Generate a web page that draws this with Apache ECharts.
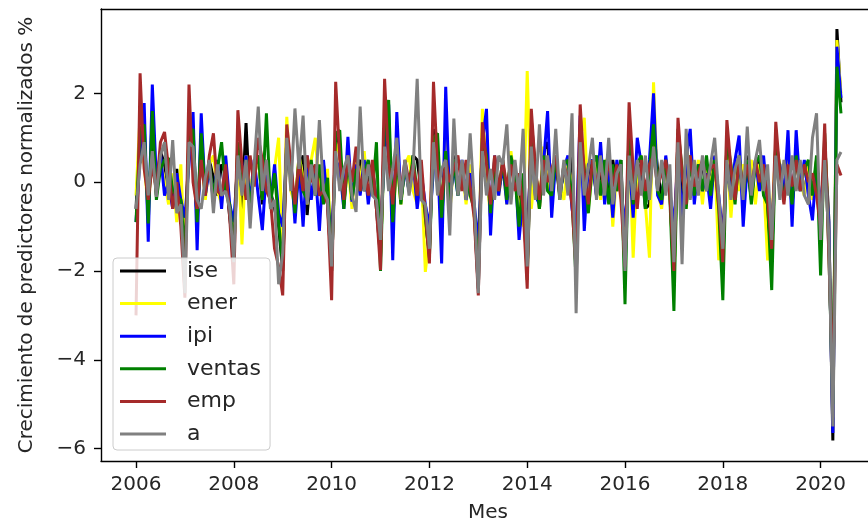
<!DOCTYPE html>
<html><head><meta charset="utf-8">
<script src="https://cdn.jsdelivr.net/npm/echarts@6/dist/echarts.min.js"></script>
<style>html,body{margin:0;padding:0;background:#fff}#c{width:868px;height:527px}</style>
</head><body><div id="c"></div>
<script>
// Monthly series, Jan 2006 .. Jun 2020
const startYear = 2006;
const seriesNames = ['ise', 'ener', 'ipi', 'ventas', 'emp', 'a'];
const seriesColors = ['#000000', '#ffff00', '#0000ff', '#008000', '#a52a2a', '#808080'];

const ise = [
  -0.6, 1.2, 0.6, -0.5, 0.9, -0.3, 0.7, 0.4, -0.2, -0.4, 0.3, -0.7,
  -1.8, 1.1, 0.5, -0.8, 0.6, -0.3, 0.5, 0.1, -0.3, 0.4, 0.2, -0.8,
  -1.6, 0.8, -0.6, 1.33, -0.6, 0.4, 0.6, -0.5, 0.5, -0.2, -0.6, -1.0,
  -2.0, 0.9, 0.2, -0.6, 0.3, 0.6, -0.74, 0.4, 0.2, -0.3, 0.4, -0.5,
  -2.0, 1.1, 0.7, -0.5, 0.6, -0.4, 0.3, 0.5, -0.2, 0.1, 0.4, -0.6,
  -1.7, 1.3, 1.0, -0.9, 0.8, -0.4, 0.3, 0.0, 0.6, 0.5, -0.2, -0.9,
  -1.6, 1.2, 0.5, -1.0, 1.1, -0.6, 0.6, -0.1, 0.3, -0.3, 0.3, -0.7,
  -2.4, 1.1, 0.6, -0.8, 0.5, -0.2, 0.4, -0.3, 0.6, 0.1, -0.4, -0.5,
  -2.0, 1.4, 0.3, -0.6, 0.7, 0.9, -0.4, 0.5, -0.2, 0.2, 0.4, 0.6,
  -2.2, 1.3, -0.4, 0.2, 0.5, -0.3, 0.2, 0.4, -0.3, 0.5, -0.2, 0.5,
  -2.0, 1.2, -0.4, 0.3, 0.4, -0.6, -0.5, 1.2, 0.3, -0.4, 0.4, -0.2,
  -2.2, 1.1, -0.6, 0.4, 0.6, -0.3, 0.3, 0.4, -0.2, 0.3, 0.5, -0.6,
  -1.9, 0.9, -0.4, 0.4, 0.5, -0.4, 0.6, 0.1, 0.4, 0.5, -0.2, -0.8,
  -1.7, 0.9, 0.2, -0.2, 0.6, -0.5, 0.7, 0.2, -0.2, 0.3, -0.4, 0.5,
  -1.2, 0.9, -0.8, -5.82, 3.45, 1.8
];
const ener = [
  -0.3, 1.5, 0.4, -0.6, 0.6, -0.2, 0.5, 0.0, -0.5, 0.2, -0.9, 0.4,
  -1.8, 1.2, 0.3, -0.7, 0.8, -0.4, 0.4, 0.6, -0.2, -0.5, 0.5, -0.6,
  -1.6, 0.9, -1.4, 0.6, -0.2, 0.3, 0.5, -0.3, 0.4, -0.5, 0.3, 1.0,
  -1.5, 1.47, -0.2, -0.5, 0.6, 0.1, -0.5, 0.5, 1.0, -0.2, -0.4, 0.3,
  -1.7, 0.9, 0.6, -0.5, 0.4, -0.6, 0.5, 0.0, 0.7, -0.4, 0.3, -0.4,
  -1.6, 1.0, 1.2, -1.0, 0.5, -0.5, 0.4, 0.6, -0.2, -0.5, 0.3, -2.02,
  -1.2, 1.0, 0.6, -0.9, 1.2, -0.7, 0.5, -0.1, 0.3, -0.5, 0.4, -0.8,
  -1.9, 1.65, 0.2, -0.8, 0.6, -0.3, 0.4, -0.5, 0.7, 0.0, -0.5, -1.0,
  2.5, -0.6, 0.3, -0.6, 0.8, 0.2, -0.5, 0.6, -0.1, -0.4, 0.5, -0.2,
  -1.9, 1.0, 1.45, -0.6, 0.3, 0.5, -0.4, 0.4, 0.6, -1.0, 0.3, -0.3,
  -1.5, 1.0, -1.7, 0.4, 0.6, -0.5, -1.7, 2.25, -0.2, -0.6, 0.4, -0.2,
  -2.3, 1.0, 0.3, -0.6, 0.6, -0.2, 0.5, -0.5, 0.4, -0.1, 0.6, -1.76,
  -1.2, 0.6, -0.8, 0.5, -0.2, 0.4, 0.2, 0.5, -0.5, 0.4, 0.0, -1.76,
  -0.9, 0.8, 0.4, -0.3, 0.5, -0.5, 0.6, 0.0, -0.3, 0.4, -0.4, 0.5,
  -0.9, 0.9, -1.0, -5.3, 3.2, 2.0
];
const ipi = [
  -0.9, 0.6, 1.78, -1.34, 2.2, 0.05, 0.65, -0.3, 0.0, -0.6, 0.2, -0.4,
  -0.8, 0.4, 1.58, -1.53, 1.55, -0.3, 0.3, -0.4, 0.5, -0.6, 0.6, -0.5,
  -0.9, 0.5, -0.2, 0.6, -0.5, 0.5, -0.3, -1.08, 0.3, -0.5, 0.4, -0.7,
  -1.0, 0.8, 0.5, -0.93, 0.4, -1.0, 0.6, -0.4, 0.3, -1.1, 0.5, -0.5,
  -1.2, 0.5, 0.3, -0.6, 1.02, -0.44, 0.4, -0.3, 0.5, -0.5, 0.3, -0.4,
  -1.1, 0.6, 1.75, -1.76, 1.58, -0.4, 0.3, -0.2, 0.5, -0.6, 0.2, -0.5,
  -1.0, 0.3, 0.6, -1.83, 2.15, -0.5, 0.4, -0.3, 0.5, -0.4, 0.2, -0.5,
  -1.4, 0.9, 1.65, -1.2, 0.6, -0.3, 0.4, -0.5, 0.5, 0.4, -1.3, -0.3,
  -1.3, 0.8, -0.3, -0.5, 0.4, 1.6, -0.8, 0.5, -0.3, 0.3, 0.6, -0.6,
  -1.2, 1.5, -1.1, 0.4, 0.5, -0.3, 0.9, -0.5, 0.4, -0.8, 0.5, -0.2,
  -1.0, 0.5, -0.8, 1.0, 0.4, -0.5, 0.5, 2.0, -0.3, -0.5, 0.6, -0.2,
  -1.0, 0.6, -0.8, 0.5, 1.2, -0.5, 0.4, -0.2, 0.2, -0.6, 0.6, -0.3,
  -1.2, 0.4, -0.3, 0.5, 1.05, -1.0, 0.4, -0.4, 0.5, -0.2, 0.6, -0.5,
  -1.0, 0.5, 0.4, -0.33, 1.17, -1.0, 1.17, -0.2, 0.5, -0.3, -0.86, 0.4,
  -0.6, 0.6, -0.9, -5.65, 3.05, 1.9
];
const ventas = [
  -0.9, 1.2, 1.3, -0.93, 1.6, -0.4, 0.3, 0.5, 0.54, -0.2, -0.3, -0.4,
  -1.6, 1.0, 1.2, -0.9, 1.1, -0.2, 0.4, -0.3, 0.3, 0.9, -0.2, -0.5,
  -1.5, 0.9, -0.2, 0.5, -0.6, 0.3, 0.6, -0.4, 1.55, -0.5, 0.2, -0.9,
  -1.9, 1.0, 0.4, -0.7, 0.6, -0.2, -0.4, 0.5, -0.3, 0.4, -0.5, 0.1,
  -2.0, 1.1, 1.17, -0.6, 0.5, -0.4, 0.3, -0.2, 0.2, 0.5, -0.3, 0.9,
  -2.0, 1.3, 1.85, -0.9, 0.6, -0.5, 0.4, -0.2, 0.6, -0.3, 0.2, -0.8,
  -1.7, 1.0, 1.1, -0.8, 0.7, -0.5, 0.5, -0.3, 0.2, 0.4, -0.3, -0.6,
  -2.0, 1.0, 0.6, -0.7, 0.4, -0.2, 0.5, -0.4, 0.6, 0.1, -1.0, 0.2,
  -2.2, 1.2, 0.3, -0.6, 0.6, -0.2, -0.3, 0.6, -0.4, 0.4, 0.5, -0.4,
  -2.2, 1.1, 0.3, -0.7, 0.4, 0.6, -0.3, 0.5, -0.5, 0.4, -0.2, 0.5,
  -2.75, 1.2, -0.5, 0.4, 0.6, -0.6, 0.3, 1.3, -0.2, -0.4, 0.5, -0.3,
  -2.9, 1.2, 0.3, -0.6, 0.5, -0.3, 0.4, -0.2, 0.6, -0.3, 0.5, -0.6,
  -2.66, 1.0, 0.4, -0.5, 0.6, -0.3, 0.5, -0.5, 0.4, 0.6, -0.3, -0.5,
  -2.43, 1.0, 0.3, -0.4, 0.2, -0.5, 0.6, -0.2, 0.3, 0.5, -0.3, 0.6,
  -2.1, 1.1, -1.5, -5.0, 2.6, 1.55
];
const emp = [
  -3.0, 2.45, 0.3, -0.4, 0.4, -0.2, 0.9, 1.13, 0.3, -0.6, 0.0, -1.0,
  -2.6, 2.2, 0.0, -0.6, 0.5, -0.3, 0.6, 1.1, -0.2, -0.3, 0.4, -0.8,
  -2.3, 1.62, 0.4, -0.4, 0.6, -0.1, 1.0, 0.5, -0.2, -0.4, -1.5, -1.9,
  -2.55, 1.3, 0.4, -0.5, 0.5, -0.2, 0.6, 0.0, 0.4, -0.3, -0.2, -0.5,
  -2.66, 2.26, 0.5, -0.4, 0.6, 0.0, 0.8, -0.2, 0.3, -0.3, 0.5, -0.6,
  -1.98, 2.33, 0.4, -0.5, 0.6, -0.2, 0.5, 0.0, 0.4, -0.3, 0.5, -0.7,
  -1.83, 2.26, 0.3, -0.4, 0.5, 0.0, 0.3, 0.6, -0.2, 0.5, -0.1, -0.8,
  -2.55, 1.35, 0.4, -0.5, 0.6, -0.2, 0.5, -0.1, 0.4, -0.2, 0.2, -0.6,
  -2.4, 1.65, 0.3, -0.4, 0.5, 0.0, 0.3, 0.6, -0.3, 0.4, 0.1, -0.5,
  -2.0, 1.75, 0.2, -0.5, 0.5, 0.0, 0.3, -0.2, 0.5, -0.1, 0.4, -0.4,
  -1.9, 1.8, 0.3, -0.6, 0.5, -0.2, 0.4, 0.6, -0.1, 0.2, 0.5, -0.3,
  -2.0, 1.45, 0.2, -0.5, 0.6, -0.1, 0.2, 0.5, 0.0, 0.3, 0.4, -0.5,
  -1.8, 1.4, 0.3, -0.4, 0.5, -0.1, 0.4, -0.2, 0.5, 0.0, 0.4, -0.4,
  -1.5, 1.36, 0.2, -0.5, 0.4, -0.1, 0.5, -0.2, 0.4, 0.0, 0.2, -0.3,
  -1.0, 1.32, -1.6, -4.6, 0.4, 0.15
];
const a = [
  -0.6, 0.4, 0.9, -0.3, 0.7, -0.33, 0.6, 0.9, -0.4, 0.95, -0.7, -0.5,
  -2.5, 0.9, 0.8, -0.4, -0.6, 0.1, 0.5, -0.7, 0.4, -0.3, -0.2, -0.6,
  -1.8, 0.6, -0.3, 0.5, -1.04, 0.4, 1.7, -0.2, 0.5, -0.6, -0.4, -2.3,
  -1.6, 1.0, -0.2, 1.66, 0.3, 1.5, -0.5, 0.4, -0.3, 1.4, -0.2, -0.4,
  -1.9, 0.7, -0.2, 0.3, 0.6, -0.3, -0.67, 1.7, -0.2, 0.4, -0.3, -0.4,
  -1.3, 0.8, -0.2, 0.3, 1.0, -0.4, 0.5, -0.3, 0.3, 2.33, -0.4, -0.5,
  -1.5, 0.9, -0.3, 0.3, 0.5, -1.2, 1.43, -0.3, 0.5, -0.4, 1.1, -0.4,
  -2.5, 0.7, -0.3, 0.3, -0.4, 0.6, 0.4, 1.3, -0.5, 0.5, -0.3, 1.2,
  -1.9, 0.8, -0.4, 1.3, -0.3, 0.6, -0.2, 1.2, -0.4, 0.5, -0.3, 1.55,
  -2.95, 0.9, -0.3, 0.3, 1.0, -0.4, 0.6, -0.3, 1.0, -0.5, 0.2, 0.4,
  -2.0, 0.6, -0.4, 0.5, -0.3, 0.6, -0.4, 0.8, -0.2, 0.5, -0.3, 0.4,
  -1.8, 0.9, -1.85, 1.2, -0.4, 0.5, -0.3, 0.6, -0.2, 0.4, 1.0, -0.3,
  -1.5, 0.5, -0.4, 0.3, 0.6, -0.4, 1.25, -0.3, 0.5, 0.95, -0.2, 0.4,
  -1.3, 0.6, -0.4, 0.5, -0.3, 0.6, -0.2, 0.5, -0.3, -0.5, 1.0, 1.55,
  -1.3, 0.5, -1.2, -5.5, 0.5, 0.68
];

const xTicks = [2006, 2008, 2010, 2012, 2014, 2016, 2018, 2020];
const yTicks = [-6, -4, -2, 0, 2];

const allValues = [ise, ener, ipi, ventas, emp, a];
const monthX = ise.map((_, i) => startYear + i / 12);

const FONT = 'DejaVu Sans';
const TXT = '#262626';

const chart = echarts.init(document.getElementById('c'), null, {renderer: 'canvas'});
chart.setOption({
  animation: false,
  backgroundColor: '#ffffff',
  grid: {left: 101, right: 0, top: 9, bottom: 66, containLabel: false, outerBoundsMode: 'none'},
  legend: {
    orient: 'vertical', left: 113, top: 258,
    data: seriesNames,
    icon: 'rect', itemWidth: 46, itemHeight: 3, itemGap: 8.6,
    padding: [1, 9, 4, 7],
    backgroundColor: 'rgba(255,255,255,0.8)',
    borderColor: '#cccccc', borderWidth: 1, borderRadius: 4,
    selectedMode: false,
    textStyle: {fontFamily: FONT, fontSize: 22, lineHeight: 24, color: TXT, padding: [0, 0, 0, 16]}
  },
  xAxis: [{
    type: 'value', min: 2005.284, max: 2020.969,
    name: 'Mes', nameLocation: 'middle', nameGap: 42,
    nameTextStyle: {fontFamily: FONT, fontSize: 20, lineHeight: 20, color: TXT, padding: [0, 0, 0, 7]},
    axisLine: {show: true, onZero: false, lineStyle: {color: '#000', width: 1.4}},
    axisTick: {show: true, length: 7, lineStyle: {color: '#000', width: 1.4}, customValues: xTicks},
    axisLabel: {fontFamily: FONT, fontSize: 20, lineHeight: 20, color: TXT, margin: 14, customValues: xTicks, formatter: v => String(Math.round(v))},
    splitLine: {show: false}
  }, {
    type: 'value', position: 'top', min: 2005.284, max: 2020.969,
    axisLine: {show: true, onZero: false, lineStyle: {color: '#000', width: 1.4}},
    axisTick: {show: false}, axisLabel: {show: false}, splitLine: {show: false}
  }],
  yAxis: {
    type: 'value', min: -6.28, max: 3.90,
    name: 'Crecimiento de predictores normalizados %',
    nameLocation: 'middle', nameRotate: 90, nameGap: 64,
    nameTextStyle: {fontFamily: FONT, fontSize: 20, color: TXT},
    axisLine: {show: true, onZero: false, lineStyle: {color: '#000', width: 1.4}},
    axisTick: {show: true, length: 7, lineStyle: {color: '#000', width: 1.4}, customValues: yTicks},
    axisLabel: {fontFamily: FONT, fontSize: 20, color: TXT, margin: 15, customValues: yTicks,
      formatter: v => (v < 0 ? '\u2212' + Math.abs(v) : String(v))},
    splitLine: {show: false}
  },
  series: seriesNames.map((name, k) => ({
    name: name, type: 'line', xAxisIndex: 0,
    data: monthX.map((x, i) => [x, allValues[k][i]]),
    showSymbol: false, symbol: 'none',
    color: seriesColors[k],
    itemStyle: {color: seriesColors[k]},
    lineStyle: {color: seriesColors[k], width: 3},
    emphasis: {disabled: true},
    silent: true
  }))
});
</script>
</body></html>
